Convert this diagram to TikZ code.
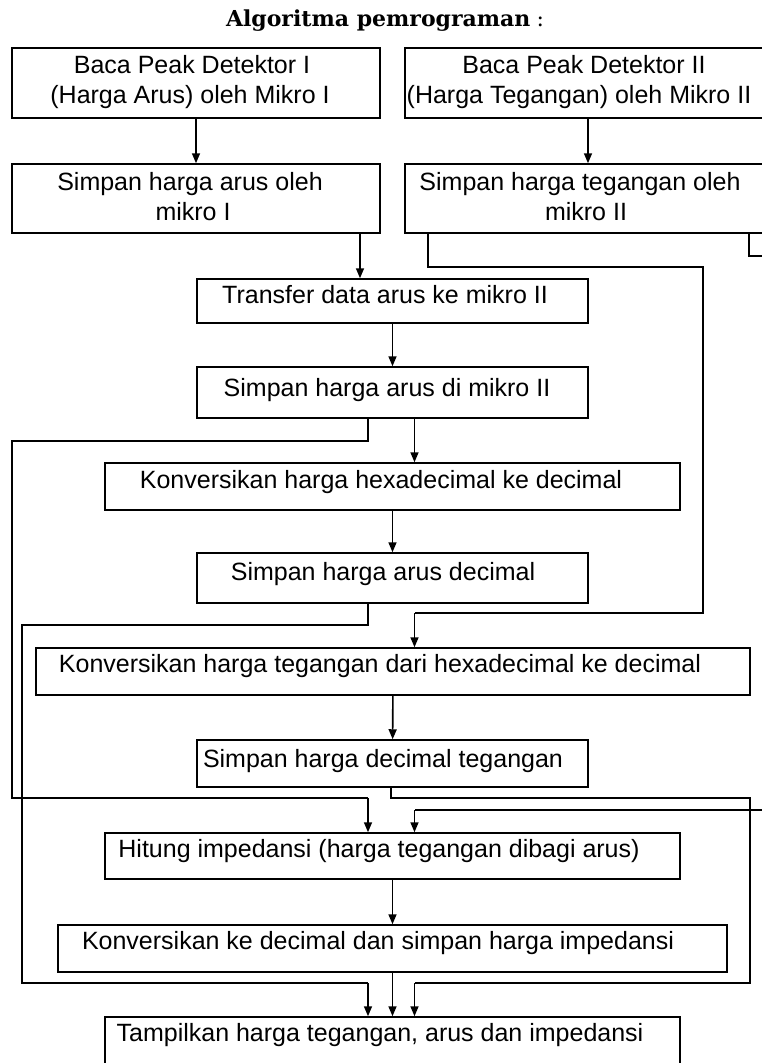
\documentclass[tikz,border=0pt]{standalone}
\usepackage{fontspec}
\setmainfont{Liberation Sans}
\newfontfamily\titlefont{DejaVu Serif}
\usetikzlibrary{arrows.meta}
\begin{document}
\begin{tikzpicture}[x=1pt,y=-1pt,
  box/.style={draw, line width=1.5pt, inner sep=0pt},
  txt/.style={anchor=base, inner sep=0pt, font=\fontsize{25}{30}\selectfont},
  ln/.style={line width=1.6pt},
  arr/.style={line width=1.6pt, -{Triangle[length=10pt,width=8pt]}}]
\useasboundingbox (0,0) rectangle (762,1063);
% title
\node[anchor=base, inner sep=0pt, font=\fontsize{22}{26}\selectfont] (title) at (385,26)
  {{\titlefont\bfseries Algoritma pemrograman} {\titlefont :}};
% boxes
\node[box, minimum width=368pt, minimum height=70pt] (b1) at (196,83) {};
\node[box, minimum width=366pt, minimum height=70pt] (b2) at (588,83) {};
\node[box, minimum width=368pt, minimum height=69pt] (b3) at (196,198.5) {};
\node[box, minimum width=366pt, minimum height=69pt] (b4) at (588,198.5) {};
\node[box, minimum width=391pt, minimum height=44pt] (tr) at (392.5,301) {};
\node[box, minimum width=391pt, minimum height=51pt] (sa) at (392.5,392.5) {};
\node[box, minimum width=575pt, minimum height=47pt] (kh) at (392.5,486.5) {};
\node[box, minimum width=391pt, minimum height=50pt] (sd) at (392.5,578) {};
\node[box, minimum width=714pt, minimum height=47pt] (kt) at (393,671.5) {};
\node[box, minimum width=391pt, minimum height=47pt] (st) at (392.5,763.5) {};
\node[box, minimum width=575pt, minimum height=46pt] (hi) at (392.5,856) {};
\node[box, minimum width=669pt, minimum height=47pt] (ki) at (392.5,948.5) {};
\node[box, minimum width=575pt, minimum height=60pt] (tp) at (392.5,1047) {};
% texts
\node[txt] (t1a) at (192,73) {Baca Peak Detektor I};
\node[txt] (t1b) at (190,103) {(Harga Arus) oleh Mikro I};
\node[txt] (t2a) at (584,73) {Baca Peak Detektor II};
\node[txt] (t2b) at (579,103) {(Harga Tegangan) oleh Mikro II};
\node[txt] (t3a) at (190,190) {Simpan harga arus oleh};
\node[txt] (t3b) at (193,220) {mikro I};
\node[txt] (t4a) at (580,190) {Simpan harga tegangan oleh};
\node[txt] (t4b) at (586,220) {mikro II};
\node[txt] (ttr) at (385,303) {Transfer data arus ke mikro II};
\node[txt] (tsa) at (387,396) {Simpan harga arus di mikro II};
\node[txt] (tkh) at (381,488) {Konversikan harga hexadecimal ke decimal};
\node[txt] (tsd) at (383,580) {Simpan harga arus decimal};
\node[txt] (tkt) at (380,672) {Konversikan harga tegangan dari hexadecimal ke decimal};
\node[txt] (tst) at (383,767) {Simpan harga decimal tegangan};
\node[txt] (thi) at (379,857) {Hitung impedansi (harga tegangan dibagi arus)};
\node[txt] (tki) at (378,949) {Konversikan ke decimal dan simpan harga impedansi};
\node[txt] (ttp) at (380,1041) {Tampilkan harga tegangan, arus dan impedansi};
% helper coordinates
\coordinate (xA) at (360,0);
\coordinate (xB) at (428,0);
\coordinate (xC) at (703,0);
\coordinate (xD) at (414.5,0);
\coordinate (xE) at (749,0);
\coordinate (xF) at (368,0);
\coordinate (xG) at (12,0);
\coordinate (xH) at (22,0);
\coordinate (xI) at (750,0);
\coordinate (xM) at (391,0);
\coordinate (offR) at (790,0);
% connectors
\draw[arr] (b1) -- (b3);
\draw[arr] (b2) -- (b4);
\draw[arr] (b3.south -| xA) -- (tr.north -| xA);
\draw[ln] (b4.south -| xB) |- (xC |- 0,267) -- (xC |- 0,613) -- (xD |- 0,613);
\draw[arr] (xD |- 0,613) -- (kt.north -| xD);
\draw[ln] (b4.south -| xE) |- (offR |- 0,256);
\draw[ln] (offR |- 0,810) -- (xD |- 0,810);
\draw[arr] (xD |- 0,810) -- (hi.north -| xD);
\draw[arr] (tr) -- (sa);
\draw[ln] (sa.south -| xF) |- (xG |- 0,441) -- (xG |- 0,798) -- (xF |- 0,798);
\draw[arr] (xF |- 0,798) -- (hi.north -| xF);
\draw[arr] (sa.south -| xD) -- (kh.north -| xD);
\draw[arr] (kh) -- (sd);
\draw[ln] (sd.south -| xF) |- (xH |- 0,625) -- (xH |- 0,983) -- (xF |- 0,983);
\draw[arr] (xF |- 0,983) -- (tp.north -| xF);
\draw[arr] (kt) -- (st);
\draw[ln] (st.south -| xM) |- (xI |- 0,798) -- (xI |- 0,983) -- (xD |- 0,983);
\draw[arr] (xD |- 0,983) -- (tp.north -| xD);
\draw[arr] (hi) -- (ki);
\draw[arr] (ki) -- (tp);
\end{tikzpicture}
\end{document}
